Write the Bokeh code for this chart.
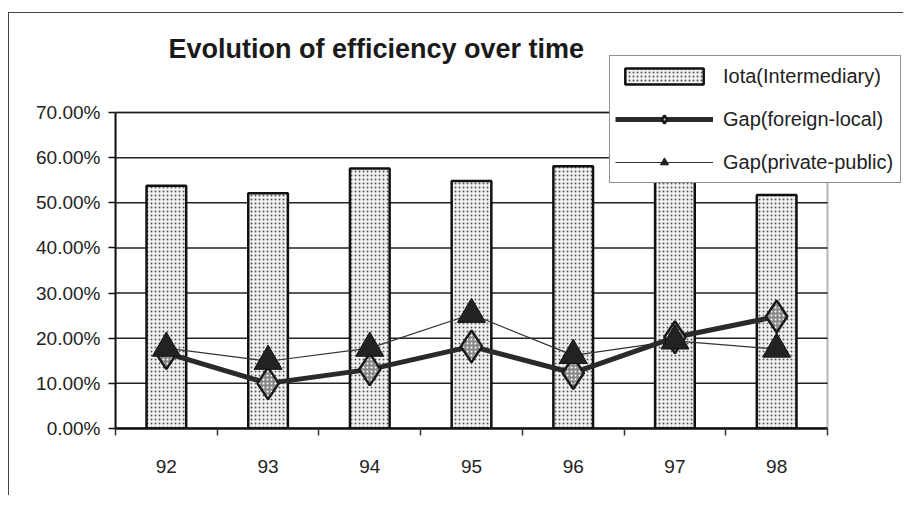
from bokeh.plotting import figure
from bokeh.models import (Range1d, FixedTicker, NumeralTickFormatter, Legend,
                          LegendItem, ColumnDataSource, Label, BoxAnnotation)
from bokeh.embed import file_html
from bokeh.resources import INLINE

# ---- data ----
years = ["92", "93", "94", "95", "96", "97", "98"]
iota_intermediary = [0.538, 0.521, 0.576, 0.548, 0.581, 0.595, 0.517]
gap_foreign_local = [0.167, 0.100, 0.131, 0.182, 0.123, 0.202, 0.248]
gap_private_public = [0.178, 0.149, 0.178, 0.253, 0.162, 0.194, 0.176]
y_tick_values = [0.0, 0.1, 0.2, 0.3, 0.4, 0.5, 0.6, 0.7]
title_text = "Evolution of efficiency over time"

FONT = "Liberation Sans"

x_pos = list(range(1, len(years) + 1))
x_lo, x_hi = 0.5, len(years) + 0.5
bounds = [i + 0.5 for i in range(0, len(years) + 1)]
y_lo, y_hi = y_tick_values[0], y_tick_values[-1]

src = ColumnDataSource(dict(x=x_pos, iota=iota_intermediary,
                            gfl=gap_foreign_local, gpp=gap_private_public))
grid_src = ColumnDataSource(dict(y=y_tick_values,
                                 x0=[x_lo] * len(y_tick_values),
                                 x1=[x_hi] * len(y_tick_values)))

# The frame is extended up and right so that the title and the legend can
# overlap the plot box; the plot box itself is drawn as an annotation.
p = figure(width=895, height=483, output_backend="svg", toolbar_location=None,
           x_range=Range1d(x_lo, 8.257), y_range=Range1d(y_lo, 0.9193),
           min_border_left=106, min_border_right=0,
           min_border_top=0, min_border_bottom=68)
p.styles = {"margin-left": "8px", "margin-top": "12px",
            "border-left": "1px solid #444", "border-top": "1px solid #444"}
p.background_fill_color = "white"
p.border_fill_color = "white"
p.outline_line_color = None

p.xgrid.visible = False
p.ygrid.visible = False

# y axis
p.yaxis.ticker = FixedTicker(ticks=y_tick_values)
p.yaxis.bounds = (y_lo, y_hi)
p.yaxis.formatter = NumeralTickFormatter(format="0.00%")
p.yaxis.axis_line_color = "#111"
p.yaxis.axis_line_width = 2
p.yaxis.major_tick_line_color = "#111"
p.yaxis.major_tick_line_width = 1.5
p.yaxis.major_tick_in = 0
p.yaxis.major_tick_out = 7
p.yaxis.minor_tick_line_color = None
p.yaxis.major_label_standoff = 8
p.yaxis.major_label_text_font = FONT
p.yaxis.major_label_text_font_size = "19px"
p.yaxis.major_label_text_color = "#222"

# x axis
p.xaxis.ticker = FixedTicker(ticks=x_pos, minor_ticks=bounds)
p.xaxis.bounds = (x_lo, x_hi)
p.xaxis.major_label_overrides = {xv: lab for xv, lab in zip(x_pos, years)}
p.xaxis.axis_line_color = "#111"
p.xaxis.axis_line_width = 2.5
p.xaxis.major_tick_line_color = None
p.xaxis.major_tick_in = 0
p.xaxis.major_tick_out = 0
p.xaxis.minor_tick_line_color = "#333"
p.xaxis.minor_tick_line_width = 1.5
p.xaxis.minor_tick_in = 0
p.xaxis.minor_tick_out = 7
p.xaxis.major_label_standoff = 24
p.xaxis.major_label_text_font = FONT
p.xaxis.major_label_text_font_size = "19px"
p.xaxis.major_label_text_color = "#222"

# horizontal grid lines (within the plot box only)
gl = p.segment(x0="x0", x1="x1", y0="y", y1="y", source=grid_src,
               line_color="#222", line_width=1.5)
gl.level = "underlay"

# plot box
p.add_layout(BoxAnnotation(left=x_lo, right=x_hi, bottom=y_lo, top=y_hi,
                           fill_color=None, line_color="#111", line_width=2,
                           level="underlay"))

# bars
bars = p.vbar(x="x", top="iota", width=0.39, bottom=0, source=src,
              fill_color="#f1f1f1", line_color="#111", line_width=2.5,
              hatch_pattern="dot", hatch_color="#555", hatch_scale=4,
              hatch_weight=1)

# lines
l_pp = p.line("x", "gpp", source=src, line_color="#333", line_width=1.2)
l_fl = p.line("x", "gfl", source=src, line_color="#2a2a2a", line_width=5)
m_fl = p.scatter("x", "gfl", source=src, marker="diamond", size=32,
                 fill_color="#8a8a8a", line_color="#1a1a1a", line_width=2.5,
                 hatch_pattern="dot", hatch_color="white", hatch_scale=4,
                 hatch_weight=1.5)
m_pp = p.scatter("x", "gpp", source=src, marker="triangle", size=28,
                 fill_color="#222", line_color="#111", line_width=1)

# title (inside the extended frame, in screen units from frame bottom-left)
p.add_layout(Label(x=53, y=380, x_units="screen", y_units="screen",
                   text=title_text, text_font=FONT, text_font_size="27px",
                   text_font_style="bold", text_color="#1a1a1a",
                   text_baseline="middle", text_align="left"))

legend = Legend(items=[
    LegendItem(label="Iota(Intermediary)", renderers=[bars]),
    LegendItem(label="Gap(foreign-local)", renderers=[l_fl, m_fl]),
    LegendItem(label="Gap(private-public)", renderers=[l_pp, m_pp]),
], location=(494, 245))
legend.border_line_color = "#222"
legend.border_line_width = 1.5
legend.background_fill_color = "white"
legend.background_fill_alpha = 1
legend.padding = 5
legend.margin = 0
legend.spacing = 13
legend.glyph_width = 98
legend.glyph_height = 20
legend.label_height = 30
legend.label_width = 172
legend.label_standoff = 10
legend.label_text_font = FONT
legend.label_text_font_size = "20px"
legend.label_text_color = "#222"
p.add_layout(legend, "center")

open("out.html", "w").write(file_html(p, INLINE))
